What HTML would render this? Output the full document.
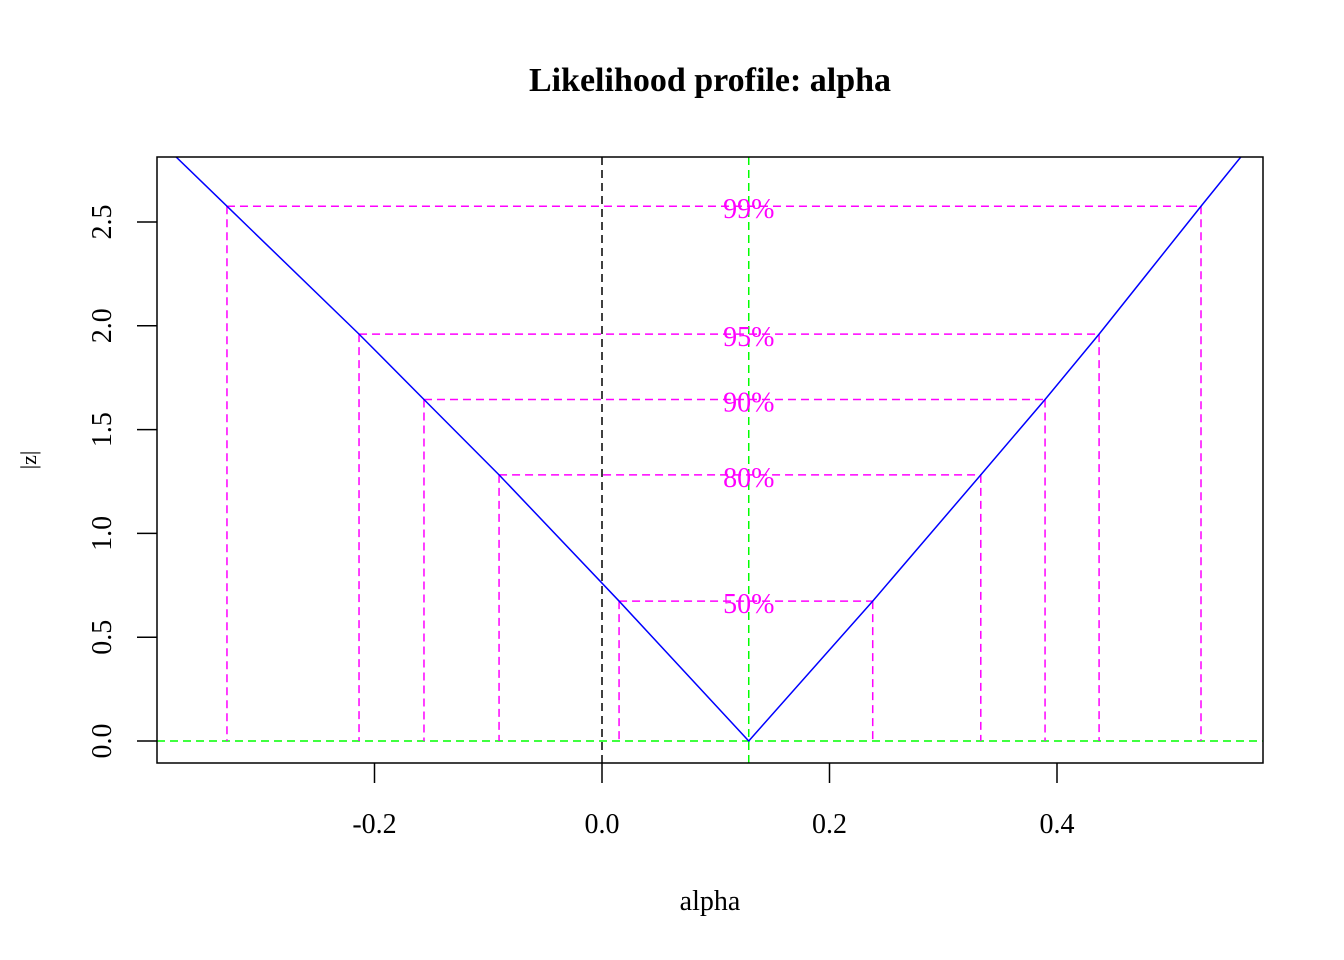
<!DOCTYPE html>
<html><head><meta charset="utf-8"><style>
body{margin:0;background:#fff}
svg{display:block;font-family:"Liberation Serif",serif}
</style></head><body>
<svg id="chart" width="1344" height="960" viewBox="0 0 1344 960" xmlns="http://www.w3.org/2000/svg">
<rect width="1344" height="960" fill="#fff"/>
<text x="710" y="91" text-anchor="middle" font-size="34" font-weight="bold">Likelihood profile: alpha</text>
<text x="710" y="910" text-anchor="middle" font-size="28">alpha</text>
<text transform="translate(36,460) rotate(-90)" text-anchor="middle" font-size="22">|z|</text>
<defs><clipPath id="pc"><rect x="157" y="157" width="1106" height="606"/></clipPath></defs>
<g id="plot" clip-path="url(#pc)"></g>
<g id="axes"></g>
<rect x="157" y="157" width="1106" height="606" fill="none" stroke="#000" stroke-width="1.5"/>
</svg>
<script>
const xTicks=[-0.2,0.0,0.2,0.4];
const xTickLabels=["-0.2","0.0","0.2","0.4"];
const yTicks=[0,0.5,1,1.5,2,2.5];
const yTickLabels=["0.0","0.5","1.0","1.5","2.0","2.5"];
const profAlpha=[-0.39,-0.3297,-0.2136,-0.1565,-0.0905,0.015,0.129,0.238,0.333,0.3895,0.437,0.5266,0.57];
const profZ=[2.896,2.576,1.96,1.645,1.282,0.674,0,0.674,1.282,1.645,1.96,2.576,2.87];
const levelNames=["99%","95%","90%","80%","50%"];
const levelZ=[2.576,1.96,1.645,1.282,0.674];
const levelLo=[-0.3297,-0.2136,-0.1565,-0.0905,0.015];
const levelHi=[0.5266,0.437,0.3895,0.333,0.238];
const alphaHat=0.129;
const X=a=>602+a*1137.5, Y=z=>741-z*207.6;
const NS="http://www.w3.org/2000/svg";
const plot=document.getElementById('plot'), axes=document.getElementById('axes');
function mk(tag,at,parent){const e=document.createElementNS(NS,tag);for(const k in at)e.setAttribute(k,at[k]);parent.appendChild(e);return e;}
function line(x1,y1,x2,y2,c,dash,name,p){const e=mk('line',{x1,y1,x2,y2,stroke:c,'stroke-width':1.5},p||plot);if(dash)e.setAttribute('stroke-dasharray','8,5');

return e;}
line(X(0),157,X(0),763,'#000',true,'zero-reference-line');
line(X(alphaHat),157,X(alphaHat),763,'#00ff00',true,'estimate-vertical-line');
line(157,Y(0),1263,Y(0),'#00ff00',true,'zero-z-line');
levelZ.forEach((z,i)=>{
  line(X(levelLo[i]),Y(z),X(levelHi[i]),Y(z),'#ff00ff',true,'level-'+levelNames[i]+'-horizontal');
  line(X(levelLo[i]),Y(z),X(levelLo[i]),Y(0),'#ff00ff',true,'level-'+levelNames[i]+'-lower');
  line(X(levelHi[i]),Y(z),X(levelHi[i]),Y(0),'#ff00ff',true,'level-'+levelNames[i]+'-upper');
  const t=mk('text',{x:X(alphaHat),y:Y(z)+12,'text-anchor':'middle','font-size':28,fill:'#ff00ff'},plot);
  t.textContent=levelNames[i];
  
  
});
const pl=mk('polyline',{points:profAlpha.map((a,i)=>X(a)+','+Y(profZ[i])).join(' '),fill:'none',stroke:'#0000ff','stroke-width':1.5},plot);


xTicks.forEach((v,i)=>{
  line(X(v),763,X(v),783,'#000',false,'x-tick',axes);
  const t=mk('text',{x:X(v),y:833,'text-anchor':'middle','font-size':28},axes);
  t.textContent=xTickLabels[i];
  
  
});
yTicks.forEach((v,i)=>{
  line(137,Y(v),157,Y(v),'#000',false,'y-tick',axes);
  const t=mk('text',{transform:`translate(111,${Y(v)}) rotate(-90)`,'text-anchor':'middle','font-size':28},axes);
  t.textContent=yTickLabels[i];
  
  
});
</script>
</body></html>
